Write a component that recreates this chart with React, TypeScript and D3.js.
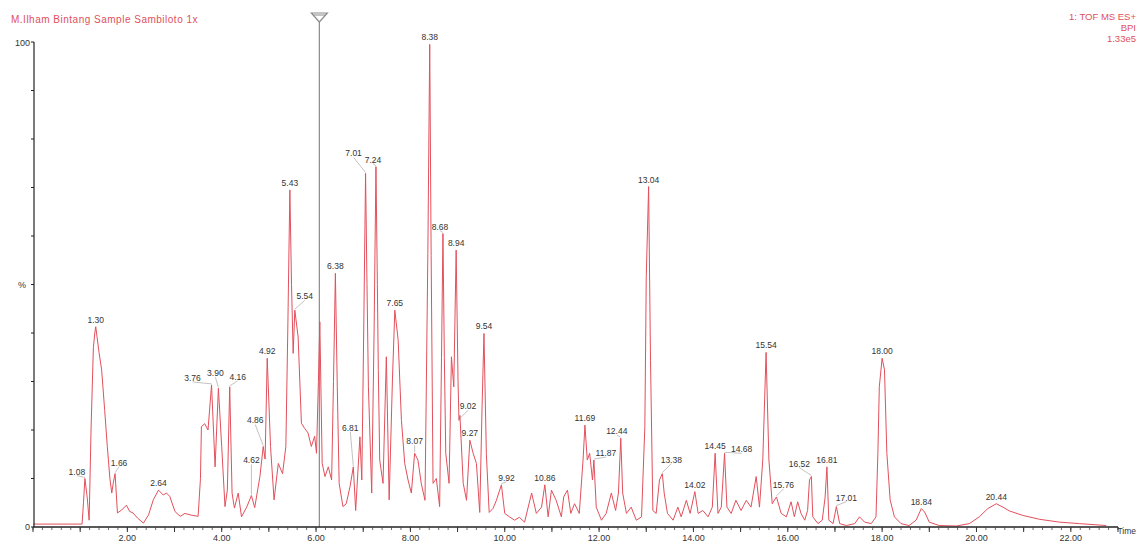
import React from "react";
import * as d3 from "d3";

// Retention time (min) / relative intensity (%)
const trace: [number, number][] = [
  [0.0, 0.6], [1.04, 0.6], [1.07, 5], [1.10, 10], [1.15, 6], [1.19, 1.4], [1.23, 20], [1.28, 37], [1.31, 40],
  [1.33, 41.3], [1.36, 39], [1.40, 36], [1.455, 32.4], [1.52, 24], [1.575, 16.6], [1.63, 10], [1.67, 7], [1.70, 9],
  [1.74, 11], [1.79, 2.9], [1.88, 3.5], [1.98, 4.5], [2.05, 3.2], [2.12, 2.9], [2.22, 1.8], [2.34, 0.8], [2.45, 2.5],
  [2.55, 5.6], [2.66, 7.6], [2.76, 6.6], [2.83, 7], [2.90, 6.3], [3.01, 3.2], [3.12, 2.2], [3.22, 2.8], [3.33, 2.5],
  [3.50, 2.2], [3.55, 10], [3.57, 20.7], [3.64, 21.3], [3.71, 20], [3.785, 29.3], [3.86, 12.4], [3.93, 28.6],
  [4.0, 16.6], [4.07, 4.2], [4.12, 7.6], [4.17, 28.9], [4.22, 7], [4.27, 3.9], [4.35, 7], [4.42, 2.1], [4.53, 4.1],
  [4.63, 6.5], [4.70, 4], [4.81, 10.4], [4.88, 16.6], [4.92, 14], [4.965, 34.8], [5.035, 16.6], [5.11, 5.6],
  [5.20, 13.1], [5.29, 11], [5.36, 16.6], [5.40, 40], [5.445, 69.5], [5.48, 50], [5.515, 35.8], [5.55, 44.7],
  [5.62, 39.2], [5.69, 21.4], [5.76, 20.3], [5.83, 19.4], [5.90, 16.6], [5.97, 18.7], [6.01, 15.2], [6.05, 30],
  [6.08, 42.3], [6.13, 13.1], [6.19, 10.4], [6.26, 12.4], [6.33, 9.7], [6.37, 30], [6.41, 52.3], [6.45, 28.9],
  [6.49, 9], [6.57, 4.2], [6.64, 4.8], [6.72, 8.3], [6.79, 12.4], [6.84, 3.4], [6.93, 18.6], [6.97, 9.7], [7.01, 40],
  [7.05, 72.9], [7.08, 50], [7.11, 28.9], [7.18, 7], [7.23, 40], [7.27, 74.3], [7.30, 50], [7.32, 32.3], [7.35, 13.8],
  [7.42, 9], [7.49, 35.1], [7.55, 5.6], [7.62, 30.5], [7.67, 44.7], [7.74, 38.6], [7.81, 22], [7.88, 13.1],
  [7.95, 9.7], [8.02, 7], [8.09, 15.2], [8.16, 13.8], [8.23, 9], [8.31, 5.5], [8.37, 56.4], [8.41, 99.5], [8.44, 56],
  [8.48, 9], [8.55, 10], [8.62, 4.2], [8.66, 35], [8.69, 60.5], [8.72, 35], [8.75, 15.2], [8.82, 9], [8.87, 35.1],
  [8.92, 28.9], [8.97, 57.1], [9.01, 30], [9.03, 22], [9.05, 23], [9.12, 9], [9.19, 5.5], [9.26, 17.9], [9.33, 15.2],
  [9.40, 13.1], [9.47, 3], [9.52, 25], [9.56, 39.9], [9.61, 15.2], [9.67, 3], [9.75, 3.8], [9.82, 5.4], [9.93, 8.7],
  [10.0, 2.8], [10.1, 2.1], [10.21, 1.4], [10.31, 2], [10.42, 1], [10.57, 7], [10.67, 2.8], [10.78, 4.1], [10.85, 8.7],
  [10.92, 2.1], [10.99, 7.6], [11.09, 5.5], [11.2, 2.1], [11.25, 6.2], [11.33, 7.6], [11.4, 2.8], [11.48, 4.8],
  [11.58, 2.8], [11.66, 13.8], [11.70, 21], [11.75, 13.8], [11.80, 15.2], [11.86, 9.7], [11.89, 13.8], [11.94, 4.1],
  [12.05, 1.4], [12.15, 2.8], [12.26, 7], [12.35, 3.4], [12.41, 7], [12.46, 18.3], [12.50, 7], [12.58, 2.8],
  [12.68, 4.1], [12.79, 1.4], [12.90, 2.1], [12.97, 20.7], [13.0, 51.6], [13.05, 70.2], [13.09, 34.4], [13.14, 3.4],
  [13.21, 2.8], [13.28, 9.7], [13.34, 11], [13.38, 7], [13.45, 2.8], [13.57, 1.4], [13.67, 4.1], [13.74, 2.1],
  [13.85, 5.5], [13.93, 2.8], [14.03, 7.3], [14.1, 2.8], [14.2, 3.4], [14.31, 2.1], [14.40, 4.1], [14.46, 15.2],
  [14.52, 2.8], [14.59, 4.1], [14.66, 15.2], [14.71, 4.1], [14.80, 2.8], [14.90, 5.5], [15.01, 3.4], [15.12, 5.5],
  [15.22, 4.1], [15.33, 10.4], [15.40, 4.1], [15.47, 13.8], [15.54, 36], [15.60, 13.8], [15.67, 4.8], [15.76, 6.2],
  [15.86, 2.8], [15.97, 2.1], [16.07, 5.2], [16.14, 2.1], [16.21, 5.2], [16.28, 2.8], [16.36, 1.4], [16.42, 3.4],
  [16.46, 9.7], [16.50, 10.4], [16.53, 2.1], [16.64, 0.7], [16.73, 1.4], [16.79, 6], [16.83, 12.4], [16.87, 1.4],
  [16.96, 0.7], [17.03, 4.2], [17.10, 0.7], [17.24, 0.3], [17.42, 0.7], [17.52, 2.1], [17.63, 1], [17.77, 0.7],
  [17.87, 2.1], [17.91, 15.2], [17.94, 28.9], [18.0, 34.8], [18.05, 32.4], [18.10, 15.2], [18.17, 5.6], [18.26, 2.1],
  [18.40, 0.7], [18.57, 0.3], [18.72, 1.4], [18.83, 3.8], [18.90, 3.1], [19.0, 1], [19.21, 0.3], [19.57, 0.2],
  [19.85, 0.7], [20.06, 2.1], [20.24, 3.8], [20.42, 4.8], [20.56, 4.1], [20.70, 3.3], [20.98, 2.4], [21.33, 1.6],
  [21.76, 1], [22.18, 0.7], [22.75, 0.3],
];

const peakLabels = [
  "1.08", "1.30", "1.66", "2.64", "3.76", "3.90", "4.16", "4.62", "4.86", "4.92", "5.43", "5.54", "6.38", "6.81",
  "7.01", "7.24", "7.65", "8.07", "8.38", "8.68", "8.94", "9.02", "9.27", "9.54", "9.92", "10.86", "11.69", "11.87",
  "12.44", "13.04", "13.38", "14.02", "14.45", "14.68", "15.54", "15.76", "16.52", "16.81", "17.01", "18.00",
  "18.84", "20.44",
];
const peakApexTimes = [
  1.10, 1.33, 1.74, 2.66, 3.785, 3.93, 4.17, 4.63, 4.88, 4.965, 5.445, 5.55, 6.41, 6.79,
  7.05, 7.27, 7.67, 8.09, 8.41, 8.69, 8.97, 9.03, 9.26, 9.56, 9.93, 10.85, 11.70, 11.89,
  12.46, 13.05, 13.34, 14.03, 14.46, 14.66, 15.54, 15.76, 16.50, 16.83, 17.03, 18.0,
  18.83, 20.42,
];

const xTickValues = [2, 4, 6, 8, 10, 12, 14, 16, 18, 20, 22];
const titleText = "M.Ilham Bintang Sample Sambiloto 1x";
const headerLines = ["1: TOF MS ES+", "BPI", "1.33e5"];
const markerTime = 6.07;

const W = 1139;
const H = 544;
const FONT = "'Liberation Sans', Arial, sans-serif";

// label nudges in pixels (layout only)
const nudge: Record<string, [number, number]> = {
  "1.08": [-8, 0], "1.66": [4, -4], "3.76": [-19, 0], "3.90": [-3, -8], "4.16": [8, -3],
  "4.62": [0, -28], "4.86": [-8, -19], "5.54": [10, -7], "6.81": [-3, -32], "7.01": [-12, -13],
  "7.24": [-3, 0], "8.07": [0, -5], "8.68": [-3, 0], "9.02": [9, -7], "9.92": [5, 0],
  "11.87": [12, 0], "12.44": [-4, 0], "13.38": [9, -7], "14.68": [17, 3], "15.76": [7, -5],
  "16.52": [-12, -6], "17.01": [10, -2],
};

export default function App() {
  const x = d3.scaleLinear().domain([0, 23]).range([33, 1118]);
  const y = d3.scaleLinear().domain([0, 100]).range([527, 42]);

  const line = d3
    .line<[number, number]>()
    .x((d) => x(d[0]))
    .y((d) => y(d[1]));

  const minorTicks = d3.range(0, 23.001, 0.2);
  const majorTicks = d3.range(0, 23.001, 1);
  const yTicks = d3.range(0, 101, 10);

  const labels = peakLabels.map((lab, i) => {
    const t = peakApexTimes[i];
    const pt = trace.reduce((best, p) => (Math.abs(p[0] - t) < Math.abs(best[0] - t) ? p : best), trace[0]);
    const [dx, dy] = nudge[lab] || [0, 0];
    const ax = x(pt[0]);
    const ay = y(pt[1]);
    return { lab, ax, ay, lx: ax + dx, ly: ay - 4 + dy, nudged: !!nudge[lab] };
  });

  const mx = x(markerTime);

  return (
    <svg
      width={W}
      height={H}
      style={{ position: "fixed", left: 0, top: 0, background: "#fff" }}
      fontFamily={FONT}
    >
      <rect x={0} y={0} width={W} height={H} fill="#fff" />
      {/* title */}
      <text x={11} y={23} fontSize={10} letterSpacing={0.5} fill="#e0505c">
        {titleText}
      </text>
      {headerLines.map((s, i) => (
        <text key={s} x={1136} y={20 + i * 11} fontSize={9.5} fill="#e0505c" textAnchor="end">
          {s}
        </text>
      ))}

      {/* marker line */}
      <line x1={mx} x2={mx} y1={14} y2={527} stroke="#8a8a8a" strokeWidth={1.2} />
      <path
        d={`M${mx - 8},13 L${mx + 8},13 L${mx},22 Z`}
        fill="#fff"
        stroke="#8a8a8a"
        strokeWidth={1.2}
      />
      <line x1={mx - 6} x2={mx + 6} y1={15} y2={15} stroke="#8a8a8a" strokeWidth={1} />

      {/* trace */}
      <path d={line(trace) || ""} fill="none" stroke="#e2505c" strokeWidth={1} strokeLinejoin="round" />

      {/* axes */}
      <line x1={34} x2={34} y1={42} y2={527} stroke="#222" strokeWidth={1.2} />
      {yTicks.map((v) => (
        <line key={v} x1={31} x2={34} y1={y(v)} y2={y(v)} stroke="#222" strokeWidth={1} />
      ))}
      <text x={30} y={46} fontSize={9} textAnchor="end" fill="#333">100</text>
      <text x={30} y={530} fontSize={9} textAnchor="end" fill="#333">0</text>
      <text x={22} y={288} fontSize={9} textAnchor="middle" fill="#333">%</text>

      <line x1={33} x2={1118} y1={527} y2={527} stroke="#222" strokeWidth={1.4} />
      {minorTicks.map((t) => (
        <line key={"m" + t} x1={x(t)} x2={x(t)} y1={527} y2={530} stroke="#444" strokeWidth={0.8} />
      ))}
      {majorTicks.map((t) => (
        <line key={"M" + t} x1={x(t)} x2={x(t)} y1={527} y2={532} stroke="#333" strokeWidth={1} />
      ))}
      {xTickValues.map((t) => (
        <text key={"l" + t} x={x(t)} y={541} fontSize={9} textAnchor="middle" fill="#333">
          {t.toFixed(2)}
        </text>
      ))}
      <text x={1136} y={534} fontSize={8.5} fill="#333" textAnchor="end">Time</text>

      {/* peak labels */}
      {labels.map((l) => (
        <g key={l.lab}>
          {l.nudged && (
            <line x1={l.lx} x2={l.ax} y1={l.ly + 1} y2={l.ay - 1} stroke="#999" strokeWidth={0.6} />
          )}
          <text x={l.lx} y={l.ly} fontSize={8.5} textAnchor="middle" fill="#333">
            {l.lab}
          </text>
        </g>
      ))}
    </svg>
  );
}
